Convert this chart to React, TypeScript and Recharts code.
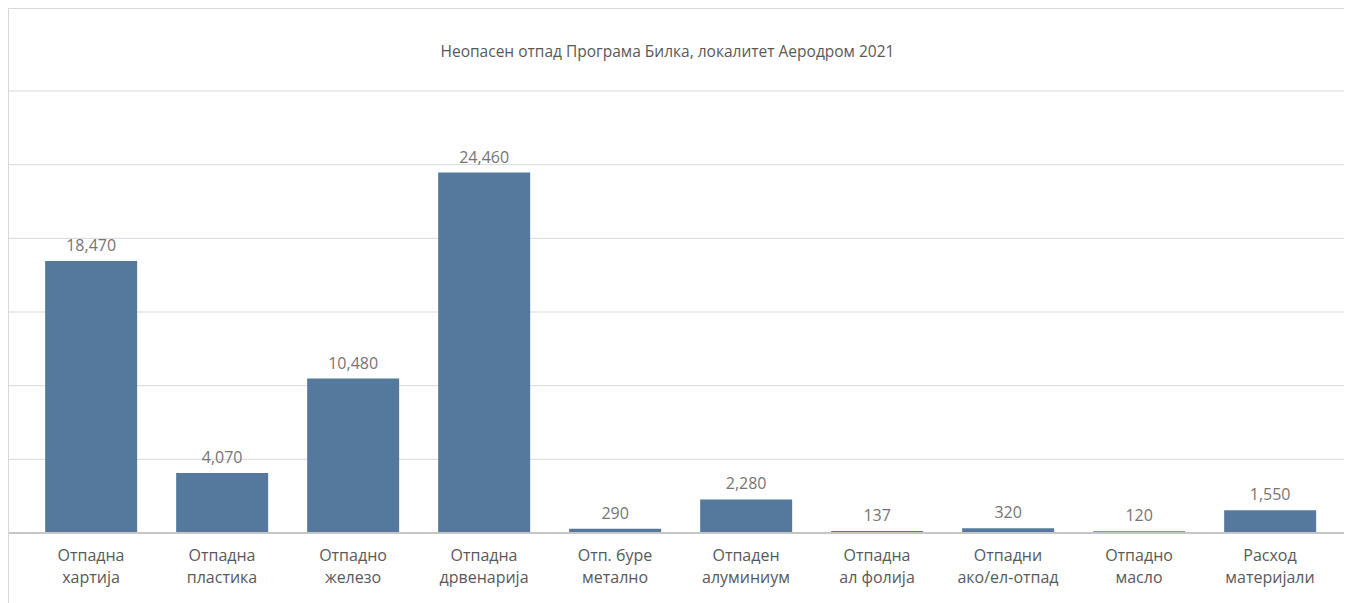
import { Bar, BarChart, CartesianGrid, LabelList, XAxis, YAxis } from "recharts";

const categories = [
  "Отпадна\nхартија",
  "Отпадна\nпластика",
  "Отпадно\nжелезо",
  "Отпадна\nдрвенарија",
  "Отп. буре\nметално",
  "Отпаден\nалуминиум",
  "Отпадна\nал фолија",
  "Отпадни\nако/ел-отпад",
  "Отпадно\nмасло",
  "Расход\nматеријали",
];

const amounts = [18470, 4070, 10480, 24460, 290, 2280, 137, 320, 120, 1550];

const yTicks = [0, 5000, 10000, 15000, 20000, 25000, 30000];

const title = "Неопасен отпад Програма Билка, локалитет Аеродром 2021";

const FONT = "'Open Sans', sans-serif";

const data = categories.map((c, i) => ({ name: c, value: amounts[i] }));

function CategoryTick(props: any) {
  const { x, y, payload } = props;
  const lines = String(payload.value).split("\n");
  return (
    <g transform={`translate(${x},${y})`}>
      {lines.map((ln, i) => (
        <text
          key={i}
          x={0}
          y={14 + i * 22}
          dy="0.35em"
          textAnchor="middle"
          fill="#595959"
          fontSize={16}
          fontFamily={FONT}
        >
          {ln}
        </text>
      ))}
    </g>
  );
}

export default function App() {
  return (
    <div
      style={{
        position: "relative",
        width: 1343,
        height: 594,
        borderTop: "1px solid #d9d9d9",
        borderLeft: "1px solid #d9d9d9",
        background: "#fff",
        overflow: "hidden",
      }}
    >
      <div
        style={{
          position: "absolute",
          top: 31,
          left: 0,
          width: 1317,
          textAlign: "center",
          fontFamily: FONT,
          fontSize: 15.5,
          lineHeight: "22px",
          color: "#595959",
        }}
      >
        {title}
      </div>
      <BarChart
        width={1343}
        height={594}
        data={data}
        margin={{ top: 82, right: 0, bottom: 10, left: 0 }}
        barCategoryGap="15%"
      >
        <CartesianGrid vertical={false} stroke="#d9d9d9" />
        <XAxis
          dataKey="name"
          interval={0}
          tickLine={false}
          axisLine={{ stroke: "#c6c6c6", strokeWidth: 2 }}
          padding={{ left: 16.5, right: 16.5 }}
          height={60}
          tick={<CategoryTick />}
        />
        <YAxis hide domain={[0, 30000]} ticks={yTicks} />
        <Bar dataKey="value" fill="#55799d" isAnimationActive={false}>
          <LabelList
            dataKey="value"
            position="top"
            offset={10}
            fill="#757575"
            fontSize={16}
            fontFamily={FONT}
            formatter={(v: any) => Number(v).toLocaleString("en-US")}
          />
        </Bar>
      </BarChart>
    </div>
  );
}
